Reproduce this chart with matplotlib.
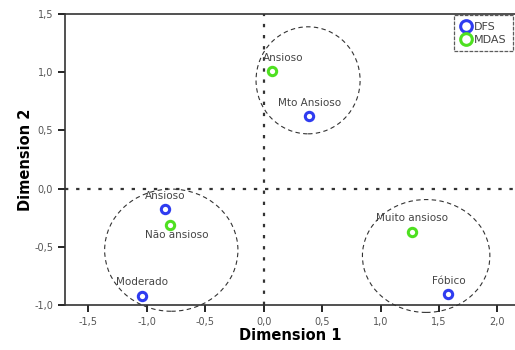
import matplotlib.pyplot as plt
from matplotlib.patches import Ellipse

# DFS categories (blue)
dfs_labels = ["Mto Ansioso", "Ansioso", "Moderado", "Fóbico"]
dfs_x = [0.39, -0.84, -1.04, 1.58]
dfs_y = [0.62, -0.18, -0.92, -0.91]

# MDAS categories (green)
mdas_labels = ["Ansioso", "Não ansioso", "Muito ansioso"]
mdas_x = [0.07, -0.80, 1.27]
mdas_y = [1.01, -0.31, -0.37]

# group circles: center x, center y, width, height
groups_cx = [0.38, -0.79, 1.39]
groups_cy = [0.93, -0.53, -0.58]
groups_w = [0.89, 1.14, 1.09]
groups_h = [0.92, 1.05, 0.97]

xticks = [-1.5, -1.0, -0.5, 0.0, 0.5, 1.0, 1.5, 2.0]
xtick_labels = ["-1,5", "-1,0", "-0,5", "0,0", "0,5", "1,0", "1,5", "2,0"]
yticks = [-1.0, -0.5, 0.0, 0.5, 1.0, 1.5]
ytick_labels = ["-1,0", "-0,5", "0,0", "0,5", "1,0", "1,5"]

blue = "#2f3cf0"
green = "#4ee020"

fig = plt.figure(figsize=(5.15, 3.5), dpi=100)
ax = fig.add_axes([0.126, 0.129, 0.874, 0.831])

ax.axhline(0, color="#333333", ls=(0, (1.5, 3.5)), lw=1.6, zorder=1)
ax.axvline(0, color="#333333", ls=(0, (1.5, 3.5)), lw=1.6, zorder=1)

for cx, cy, w, h in zip(groups_cx, groups_cy, groups_w, groups_h):
    ax.add_patch(Ellipse((cx, cy), w, h, fill=False, ec="#333333",
                         ls=(0, (4, 3)), lw=0.8, zorder=2, clip_on=False))

ax.plot(dfs_x, dfs_y, "o", ms=6, mfc="white", mec=blue, mew=2.2,
        ls="none", label="DFS", zorder=4)
ax.plot(mdas_x, mdas_y, "o", ms=6, mfc="white", mec=green, mew=2.2,
        ls="none", label="MDAS", zorder=4)

# labels above points (Não ansioso sits below its point)
for lab, x, y in zip(dfs_labels, dfs_x, dfs_y):
    ax.annotate(lab, (x, y), xytext=(0, 6), textcoords="offset points",
                ha="center", va="bottom", fontsize=7.5, color="#444444")
for lab, x, y in zip(mdas_labels, mdas_x, mdas_y):
    if lab == "Não ansioso":
        ax.annotate(lab, (x, y), xytext=(5, -4), textcoords="offset points",
                    ha="center", va="top", fontsize=7.5, color="#444444")
    elif lab == "Ansioso":
        ax.annotate(lab, (x, y), xytext=(8, 6), textcoords="offset points",
                    ha="center", va="bottom", fontsize=7.5, color="#444444")
    else:
        ax.annotate(lab, (x, y), xytext=(0, 6), textcoords="offset points",
                    ha="center", va="bottom", fontsize=7.5, color="#444444")

ax.set_xlim(-1.7, 2.15)
ax.set_ylim(-1.0, 1.5)
ax.set_xticks(xticks)
ax.set_xticklabels(xtick_labels)
ax.set_yticks(yticks)
ax.set_yticklabels(ytick_labels)
ax.tick_params(labelsize=7, labelcolor="#555555", length=5, width=1.2)

ax.spines["right"].set_visible(False)
for s in ["left", "bottom", "top"]:
    ax.spines[s].set_linewidth(1.2)
    ax.spines[s].set_color("#333333")

ax.set_xlabel("Dimension 1", fontsize=10.5, fontweight="bold", labelpad=1)
ax.set_ylabel("Dimension 2", fontsize=10.5, fontweight="bold", labelpad=1)

leg = ax.legend(loc="upper right", bbox_to_anchor=(0.995, 0.995),
                fontsize=8, frameon=True, fancybox=False, markerscale=1.4,
                borderpad=0.55, handletextpad=0.25, handlelength=1.0,
                borderaxespad=0.0, labelspacing=0.3)
leg.get_frame().set_edgecolor("#333333")
leg.get_frame().set_linestyle((0, (3, 1)))
leg.get_frame().set_linewidth(0.9)
for t in leg.get_texts():
    t.set_color("#444444")

fig.savefig("out.png", dpi=100)
